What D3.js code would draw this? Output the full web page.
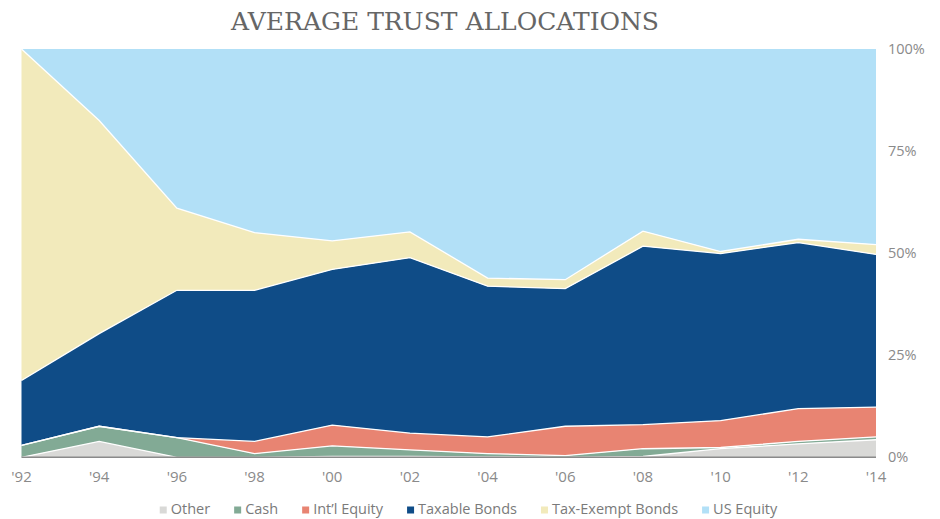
<!DOCTYPE html>
<html>
<head>
<meta charset="utf-8">
<script src="https://cdn.jsdelivr.net/npm/d3@7"></script>
<style>
  body { margin: 0; background: #fff; }
  text { font-family: "Open Sans", "DejaVu Sans", sans-serif; }
</style>
</head>
<body>
<div id="chart"></div>
<script>
// Average trust allocations, percent of portfolio
const years = ["'92", "'94", "'96", "'98", "'00", "'02", "'04", "'06", "'08", "'10", "'12", "'14"];
const other      = [0, 3.9, 0, 0, 0.2, 0.2, 0.1, 0, 0.2, 2.1, 3.3, 4.3];
const cash       = [2.9, 3.7, 4.8, 0.9, 2.6, 1.6, 0.8, 0.4, 1.9, 0.3, 0.6, 0.7];
const intlEquity = [0, 0, 0, 3.0, 5.1, 4.1, 4.1, 7.2, 5.9, 6.6, 8.0, 7.3];
const taxable    = [15.9, 22.7, 36.1, 37.0, 38.1, 43.0, 36.9, 33.7, 43.7, 40.9, 40.7, 37.4];
const taxExempt  = [81.2, 52.2, 20.1, 14.1, 7.0, 6.3, 2.0, 2.2, 3.7, 0.5, 0.8, 2.4];
const usEquity   = [0, 17.5, 39.0, 45.0, 47.0, 44.8, 56.1, 56.5, 44.6, 49.6, 46.6, 47.9];

const seriesNames = ["Other", "Cash", "Int\u2019l Equity", "Taxable Bonds", "Tax-Exempt Bonds", "US Equity"];
const seriesValues = [other, cash, intlEquity, taxable, taxExempt, usEquity];
const colors = ["#d9d9d7", "#82aa95", "#e88472", "#0f4c87", "#f2eabb", "#b2e0f7"];
const yTicks = [0, 25, 50, 75, 100];

const W = 940, H = 519;
const svg = d3.select("#chart").append("svg")
    .attr("width", W)
    .attr("height", H);

// build table for d3.stack
const rows = years.map((yr, i) => {
    const r = { year: yr };
    seriesNames.forEach((n, k) => { r[n] = seriesValues[k][i]; });
    return r;
});
const stacked = d3.stack().keys(seriesNames)(rows);

const x = d3.scalePoint().domain(years).range([21.5, 876]);
const y = d3.scaleLinear().domain([0, 100]).range([457.3, 49]);

// title
svg.append("text")
    .attr("x", 445)
    .attr("y", 29.5)
    .attr("text-anchor", "middle")
    .attr("fill", "#666")
    .style("font-family", "'DejaVu Serif', 'Liberation Serif', serif")
    .style("font-size", "25px")
    .attr("textLength", 428)
    .attr("lengthAdjust", "spacingAndGlyphs")
    .text("AVERAGE TRUST ALLOCATIONS");

// stacked areas
const area = d3.area()
    .x(d => x(d.data.year))
    .y0(d => y(d[0]))
    .y1(d => y(d[1]));

svg.append("g")
    .selectAll("path")
    .data(stacked)
    .join("path")
    .attr("d", area)
    .attr("fill", (d, i) => colors[i]);

// white boundaries between layers
const topLine = d3.line()
    .x(d => x(d.data.year))
    .y(d => y(d[1]));

svg.append("g")
    .selectAll("path")
    .data(stacked.slice(0, stacked.length - 1))
    .join("path")
    .attr("d", topLine)
    .attr("fill", "none")
    .attr("stroke", "#fff")
    .attr("stroke-width", 1.3);

// baseline
svg.append("line")
    .attr("x1", x.range()[0]).attr("x2", x.range()[1])
    .attr("y1", y(0)).attr("y2", y(0))
    .attr("stroke", "#8a8a8a")
    .attr("stroke-width", 1.5);

// x axis labels
svg.append("g")
    .selectAll("text")
    .data(years)
    .join("text")
    .attr("x", d => x(d))
    .attr("y", 481.5)
    .attr("text-anchor", "middle")
    .attr("fill", "#8a8a8a")
    .style("font-size", "15px")
    .text(d => d);

// y axis labels (right side)
svg.append("g")
    .selectAll("text")
    .data(yTicks)
    .join("text")
    .attr("x", 888)
    .attr("y", d => y(d))
    .attr("dy", "0.35em")
    .attr("fill", "#8a8a8a")
    .style("font-size", "14.5px")
    .text(d => d + "%");

// legend, centred under the chart
const legend = svg.append("g");
const items = legend.selectAll("g")
    .data(seriesNames)
    .join("g");
items.append("rect")
    .attr("width", 7)
    .attr("height", 7)
    .attr("y", 506.5)
    .attr("fill", (d, i) => colors[i]);
items.append("text")
    .attr("x", 11)
    .attr("y", 513.5)
    .attr("fill", "#7a7a7a")
    .style("font-size", "14.5px")
    .text(d => d);

const gap = 24;
let cx = 0;
items.each(function() {
    const g = d3.select(this);
    g.attr("transform", `translate(${cx},0)`);
    cx += 11 + g.select("text").node().getComputedTextLength() + gap;
});
const legendWidth = cx - gap;
legend.attr("transform", `translate(${(162 + 775) / 2 - legendWidth / 2},0)`);
</script>
</body>
</html>
